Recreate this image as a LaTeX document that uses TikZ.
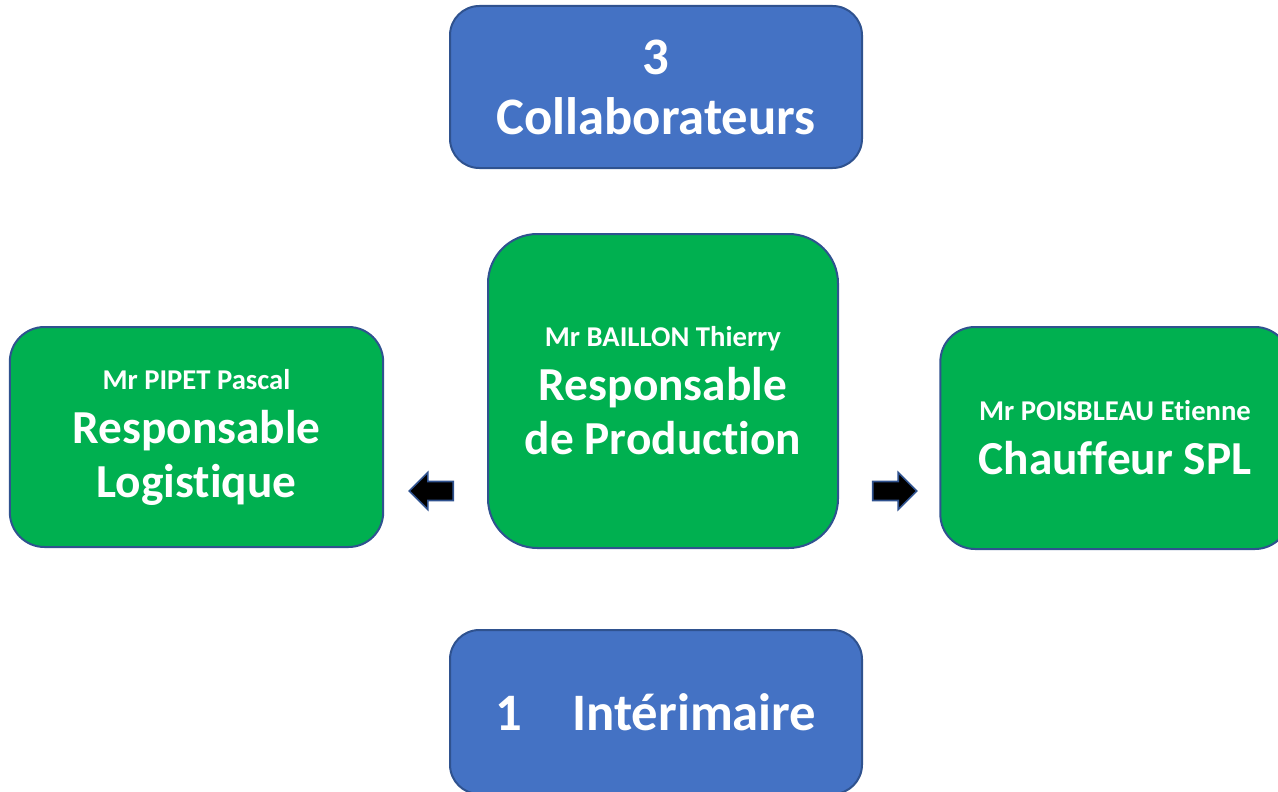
\documentclass[tikz,border=0pt]{standalone}
\usepackage{fontspec}
\setmainfont{Carlito}[Ligatures=NoCommon]
\usetikzlibrary{shapes.arrows}
\definecolor{boxblue}{HTML}{4472C4}
\definecolor{boxgreen}{HTML}{00B050}
\definecolor{edgeblue}{HTML}{2F528F}
\newcommand{\who}[1]{{\fontsize{21.5}{26}\selectfont #1}}
\begin{document}
\begin{tikzpicture}[x=0.75pt,y=-0.75pt,
  card/.style={draw=edgeblue,line width=1.5pt,text=white,align=center,
    font=\bfseries\fontsize{35.5}{40.5}\selectfont,inner sep=0pt},
  bluecard/.style={card,fill=boxblue,rounded corners=22pt,
    minimum width=309pt,font=\bfseries\fontsize{39.5}{45}\selectfont},
  greencard/.style={card,fill=boxgreen},
  blockarrow/.style={single arrow,draw=edgeblue,fill=black,line width=1.2pt,
    inner sep=6.5pt,minimum height=33pt,single arrow head extend=6.8pt}]
  \useasboundingbox (0,0) rectangle (1278,792);
  \node[bluecard,minimum height=121.5pt,text depth=-4pt] at (656,87) (team) {3\\Collaborateurs};
  \node[greencard,rounded corners=37pt,minimum width=262.5pt,minimum height=235.5pt]
    at (663,391) (boss) {\who{Mr BAILLON Thierry}\\Responsable\\de Production};
  \node[greencard,rounded corners=26pt,minimum width=280pt,minimum height=165pt]
    at (196.5,437) (logi) {\who{Mr PIPET Pascal}\\Responsable\\Logistique};
  \node[greencard,rounded corners=26pt,minimum width=262pt,minimum height=166.5pt]
    at (1115,438) (spl) {\who{Mr POISBLEAU Etienne}\\Chauffeur SPL};
  \node[bluecard,minimum height=123pt] at (656,712) (temp) {1\hspace{0.95em}Intérimaire};
  \node[blockarrow,shape border rotate=180] at (436,491) (toleft) {};
  \node[blockarrow] at (890,491) (toright) {};
\end{tikzpicture}
\end{document}
